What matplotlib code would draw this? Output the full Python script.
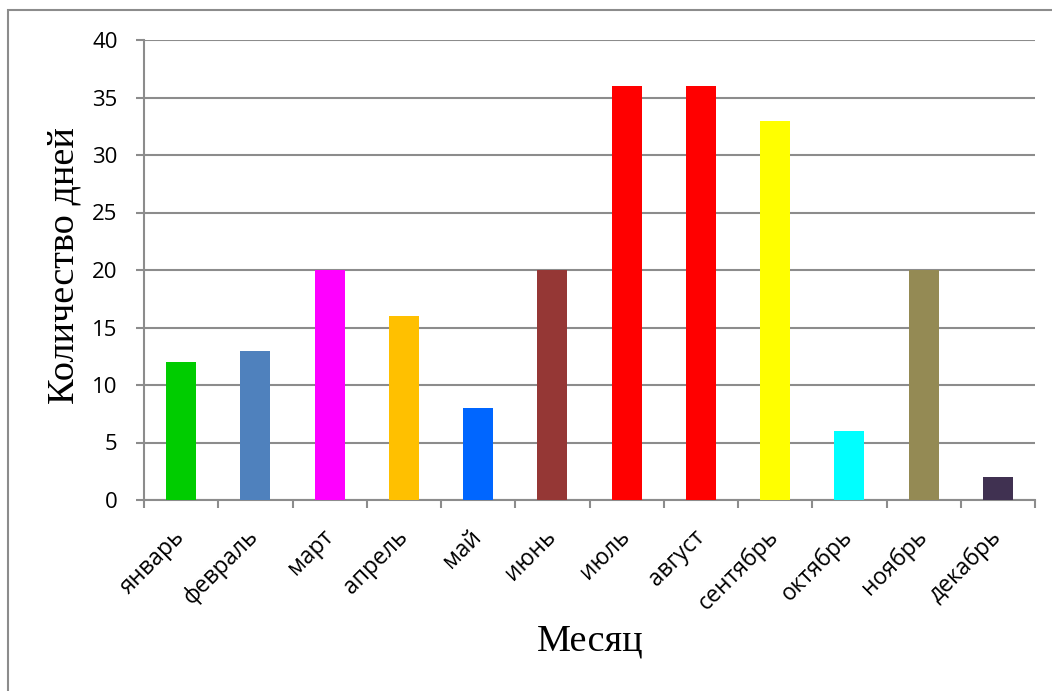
import matplotlib
matplotlib.use("Agg")
import matplotlib.pyplot as plt
from matplotlib.patches import Rectangle
import numpy as np

months = ["январь", "февраль", "март", "апрель", "май", "июнь", "июль",
          "август", "сентябрь", "октябрь", "ноябрь", "декабрь"]
days = [12, 13, 20, 16, 8, 20, 36, 36, 33, 6, 20, 2]
colors = ["#00CC00", "#4F81BD", "#FF00FF", "#FFC000", "#0066FF", "#953735",
          "#FF0000", "#FF0000", "#FFFF00", "#00FFFF", "#948A54", "#403151"]
yticks = [0, 5, 10, 15, 20, 25, 30, 35, 40]

W, H = 1052, 691
fig = plt.figure(figsize=(W / 100, H / 100), dpi=100)
fig.patch.set_facecolor("white")

# outer chart border
fig.patches.append(Rectangle((8 / W, -0.05), 1.2, 1 - 10 / H + 0.05,
                             transform=fig.transFigure, fill=False,
                             edgecolor="#8C8C8C", linewidth=1.5, zorder=0))

ax = fig.add_axes([144 / W, 1 - 500 / H, (1035 - 144) / W, (500 - 40) / H])
x = np.arange(len(months))
ax.bar(x, days, width=0.404, color=colors, zorder=3)

ax.set_xlim(-0.5, len(months) - 0.5)
ax.set_ylim(0, 40)
ax.set_yticks(yticks)
ax.yaxis.grid(True, color="#8C8C8C", linewidth=1.5, zorder=0)
ax.set_axisbelow(True)

gray = "#8C8C8C"
for s in ["top", "right"]:
    ax.spines[s].set_visible(False)
for s in ["left", "bottom"]:
    ax.spines[s].set_color(gray)
    ax.spines[s].set_linewidth(1.5)

tick_font = "Open Sans"
ax.tick_params(axis="y", direction="out", length=6, width=1.5, color=gray,
               labelsize=16, pad=13)
for lbl in ax.get_yticklabels():
    lbl.set_fontfamily(tick_font)

ax.set_xticks(np.arange(-0.5, len(months), 1.0))
ax.set_xticklabels([])
ax.set_xticks(x, minor=True)
ax.set_xticklabels(months, minor=True, rotation=45, ha="right", va="center",
                   rotation_mode="anchor", fontsize=16.5, fontfamily=tick_font)
ax.tick_params(axis="x", which="major", direction="out", length=6, width=1.5,
               color=gray)
ax.tick_params(axis="x", which="minor", length=0, pad=24)

fig.text(64 / W, 1 - 266 / H, "Количество дней", rotation=90, ha="center",
         va="center", fontsize=27.5, fontfamily="Liberation Serif")
fig.text(590 / W, 1 - 641 / H, "Месяц", ha="center", va="center",
         fontsize=27.5, fontfamily="Liberation Serif")

fig.savefig("out.png", dpi=100, facecolor="white")
